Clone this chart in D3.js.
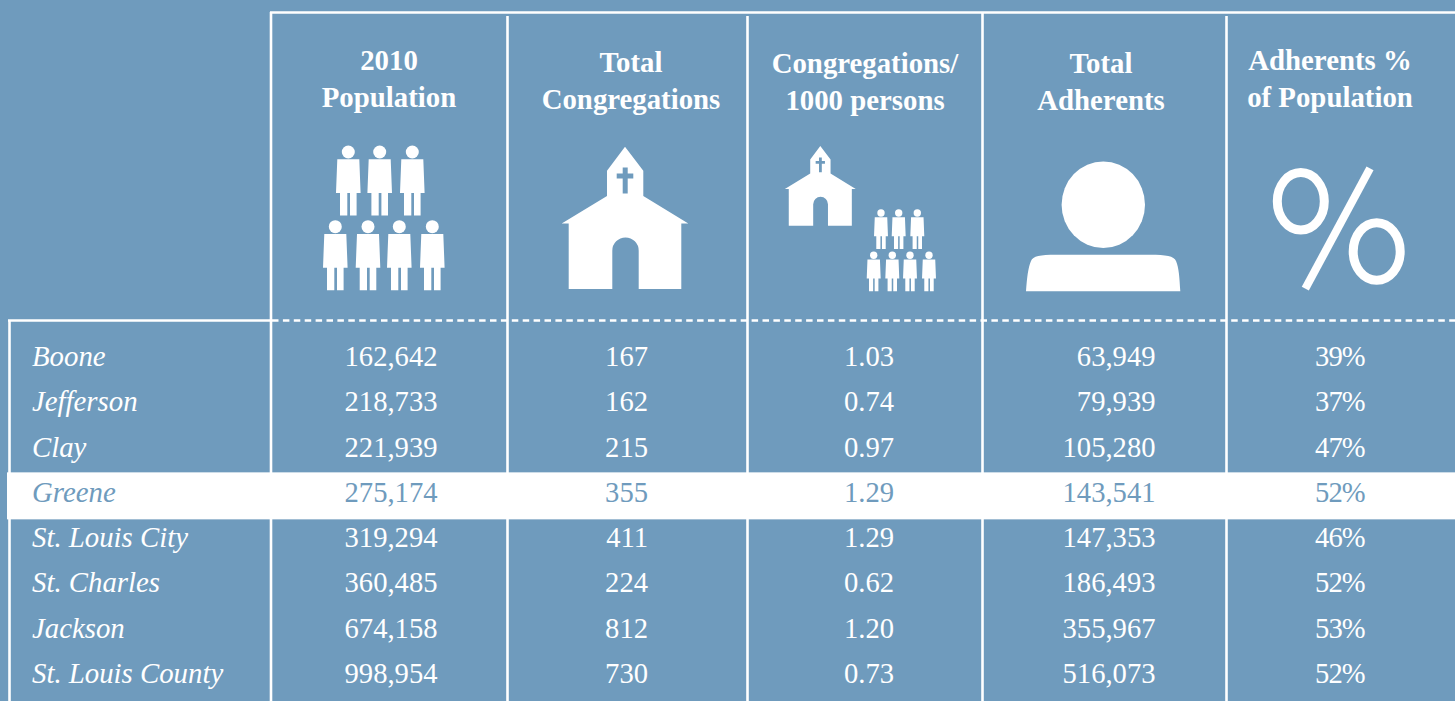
<!DOCTYPE html>
<html>
<head>
<meta charset="utf-8">
<script src="https://d3js.org/d3.v7.min.js"></script>
<style>
  html, body { margin: 0; padding: 0; background: #6f9bbd; overflow: hidden; }
  svg { display: block; }
  text { font-family: "Liberation Serif", serif; fill: #fff; }
  .head { font-weight: bold; font-size: 28.8px; text-anchor: middle; }
  .name { font-style: italic; font-size: 28.8px; }
  .num { font-size: 28.6px; text-anchor: end; }
</style>
</head>
<body>
<script>
// table values
var counties = ["Boone", "Jefferson", "Clay", "Greene", "St. Louis City", "St. Charles", "Jackson", "St. Louis County"];
var population = ["162,642", "218,733", "221,939", "275,174", "319,294", "360,485", "674,158", "998,954"];
var congregations = ["167", "162", "215", "355", "411", "224", "812", "730"];
var perThousand = ["1.03", "0.74", "0.97", "1.29", "1.29", "0.62", "1.20", "0.73"];
var adherents = ["63,949", "79,939", "105,280", "143,541", "147,353", "186,493", "355,967", "516,073"];
var adherentPct = ["39%", "37%", "47%", "52%", "46%", "52%", "53%", "52%"];
var highlighted = "Greene";
var headers = [
  ["2010", "Population"],
  ["Total", "Congregations"],
  ["Congregations/", "1000 persons"],
  ["Total", "Adherents"],
  ["Adherents %", "of Population"]
];

var width = 1455, height = 701;
var blue = "#6f9bbd";
var columns = [population, congregations, perThousand, adherents, adherentPct];

var svg = d3.select("body").append("svg").attr("width", width).attr("height", height);

svg.append("rect").attr("width", width).attr("height", height).attr("fill", blue);

/* scales for the rows and columns */
var y = d3.scalePoint().domain(counties).range([366, 683]);
var colIndex = d3.range(columns.length);
var headX = d3.scaleOrdinal().domain(colIndex).range([389, 631, 865, 1101, 1330]);
var headY = d3.scaleOrdinal().domain(colIndex).range([70, 72, 73, 73, 70]);
var numX = d3.scaleOrdinal().domain(colIndex).range([437.5, 648, 894, 1155.5, 1364.5]);

/* grid lines */
var rules = svg.append("g").attr("stroke", "#fff").attr("stroke-width", 2.6);
function rule(x1, y1, x2, y2) {
  return rules.append("line").attr("x1", x1).attr("y1", y1).attr("x2", x2).attr("y2", y2);
}
rule(270, 12.5, width, 12.5);
rule(271, 12, 271, height);
rule(507.5, 16, 507.5, height);
rule(747.5, 16, 747.5, height);
rule(982.5, 12, 982.5, height);
rule(1226.5, 16, 1226.5, height);
rule(9.5, 320, 9.5, height);
rule(8, 320.5, 271, 320.5);
rule(272, 320.5, width, 320.5).attr("stroke-dasharray", "6.5 4.4");

/* highlighted row */
svg.append("rect")
  .attr("x", 7).attr("y", y(highlighted) - 29.5)
  .attr("width", width - 7).attr("height", 47)
  .attr("fill", "#fff");

/* header text */
var heads = svg.append("g").selectAll("text").data(headers).join("text")
  .attr("class", "head")
  .attr("transform", function(d, i) { return "translate(" + headX(i) + "," + headY(i) + ")"; });
heads.selectAll("tspan").data(function(d) { return d; }).join("tspan")
  .attr("x", 0)
  .attr("y", function(d, i) { return i * 37; })
  .text(function(d) { return d; });

/* county names */
svg.append("g").selectAll("text").data(counties).join("text")
  .attr("class", "name")
  .attr("x", 32)
  .attr("y", function(d) { return y(d); })
  .style("fill", function(d) { return d === highlighted ? blue : "#fff"; })
  .text(function(d) { return d; });

/* numbers */
columns.forEach(function(col, c) {
  svg.append("g").selectAll("text").data(col).join("text")
    .attr("class", "num")
    .attr("x", numX(c))
    .attr("y", function(d, i) { return y(counties[i]); })
    .style("fill", function(d, i) { return counties[i] === highlighted ? blue : "#fff"; })
    .style("letter-spacing", c === 4 ? "-1px" : null)
    .text(function(d) { return d; });
});

/* icons */
var personPath = "M-11,7.3L11,7.3L12.3,41L8.3,41L8.3,63.5L1.7,63.5L1.7,41L-1,41L-1,63.5L-8.3,63.5L-8.3,41L-12.3,41Z";
var churchPath = "M0,0L18.3,24L18.3,49.3L63.3,76.7L56.3,76.7L56.3,142.3L13.7,142.3L13.7,104"
  + "A13.2,13.2 0 0 0 -12.7,104L-12.7,142.3L-56.3,142.3L-56.3,76.7L-63.3,76.7L-18,49.3L-18,24Z"
  + "M-2.3,20.7L-2.3,26.7L-8.3,26.7L-8.3,31.7L-2.3,31.7L-2.3,46.7L2.7,46.7L2.7,31.7L8.3,31.7L8.3,26.7L2.7,26.7L2.7,20.7Z";

function person(x0, y0, s) {
  var g = svg.append("g").attr("transform", "translate(" + x0 + "," + y0 + ") scale(" + s + ")").attr("fill", "#fff");
  g.append("circle").attr("r", 6.5);
  g.append("path").attr("d", personPath);
}
function church(x0, y0, s) {
  svg.append("path").attr("transform", "translate(" + x0 + "," + y0 + ") scale(" + s + ")")
    .attr("fill", "#fff").attr("fill-rule", "evenodd").attr("d", churchPath);
}

[348.3, 379.7, 412.3].forEach(function(x) { person(x, 152, 1); });
[335.3, 368, 399.3, 432.3].forEach(function(x) { person(x, 226.7, 1); });
[881, 898.7, 917.3].forEach(function(x) { person(x, 213, 0.567); });
[873.7, 892.3, 910, 929].forEach(function(x) { person(x, 255.3, 0.567); });
church(625, 146.7, 1);
church(820.3, 146, 0.56);

/* adherent figure */
svg.append("ellipse").attr("cx", 1103.3).attr("cy", 204.7).attr("rx", 41.7).attr("ry", 43.3).attr("fill", "#fff");
svg.append("path").attr("fill", "#fff")
  .attr("d", "M1026,291.3L1180.3,291.3C1179.5,278 1179,268 1176,261C1174,256 1166,254.7 1150,254.7L1056,254.7C1040,254.7 1033,256 1031,261C1028,268 1027,278 1026,291.3Z");

/* percent sign */
var pct = svg.append("g").attr("fill", "none").attr("stroke", "#fff").attr("stroke-width", 9);
pct.append("ellipse").attr("cx", 1300.8).attr("cy", 201.3).attr("rx", 23.5).attr("ry", 28.7);
pct.append("ellipse").attr("cx", 1376.7).attr("cy", 251.5).attr("rx", 23.5).attr("ry", 28.7);
pct.append("line").attr("x1", 1370).attr("y1", 168.3).attr("x2", 1305.3).attr("y2", 288.7).attr("stroke-width", 8);
</script>
</body>
</html>
